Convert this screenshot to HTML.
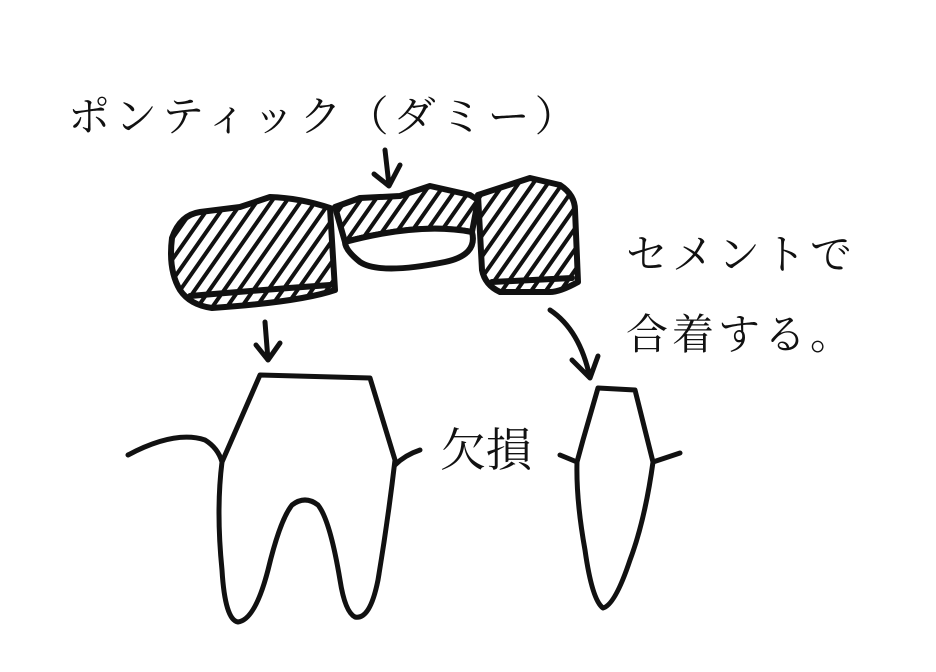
<!DOCTYPE html>
<html><head><meta charset="utf-8"><style>
html,body{margin:0;padding:0;background:#fff;}
body{width:936px;height:672px;overflow:hidden;position:relative;font-family:"Liberation Sans","Noto Sans CJK JP",sans-serif;}
.t{position:absolute;color:#111;white-space:nowrap;font-family:"Noto Serif CJK SC","Noto Sans CJK JP",serif;}
</style></head><body>
<svg width="936" height="672" style="position:absolute;left:0;top:0" xmlns="http://www.w3.org/2000/svg">
<defs>
<pattern id="h" patternUnits="userSpaceOnUse" width="12" height="12" patternTransform="rotate(35)">
<rect width="12" height="12" fill="#fff"/><rect x="0" y="0" width="4" height="12" fill="#111"/>
</pattern>
</defs>
<g stroke="#111" stroke-width="6" stroke-linejoin="round" stroke-linecap="round" fill="url(#h)">
<path d="M172,238 Q180,215 200,212 L240,207 L270,197 Q300,198 330,208 L335,290 Q300,302 212,308 Q190,305 180,290 Q168,270 172,238 Z"/>
<path d="M190,296 Q260,290 330,285"/>
<path d="M335,207 L360,198 L400,196 L430,186 L470,195 L478,200 L472,232 Q420,222 345,242 Z"/>
<path d="M345,242 Q420,222 472,232 Q478,255 445,262 Q380,275 360,262 Q345,250 345,242 Z" fill="#fff"/>
<path d="M478,195 L530,178 L560,185 Q575,195 575,210 L578,282 Q560,292 550,292 L500,292 Q485,285 482,270 Z"/>
<path d="M492,282 L572,278"/>
</g>
<g stroke="#111" stroke-width="5" fill="none" stroke-linecap="round" stroke-linejoin="round">
<path d="M385,150 L389,185 M374,174 L389,186 L400,165"/>
<path d="M265,322 L268,360 M256,345 L268,360 L280,343"/>
<path d="M550,310 Q580,330 590,378 M572,360 L590,378 L598,356"/>
<path d="M260,375 L370,378 L395,460 Q388,520 378,580 Q370,620 355,617 Q345,612 340,580 Q330,520 318,505 Q305,495 292,505 Q280,520 268,570 Q255,620 238,622 Q225,620 222,570 Q216,510 222,462 Z"/>
<path d="M128,455 Q175,430 205,440 Q218,448 222,462"/>
<path d="M395,465 Q405,455 420,450"/>
<path d="M598,388 L635,390 L645,430 L653,462 Q645,520 630,560 Q615,605 603,608 Q592,600 585,550 Q576,500 577,462 L583,440 Z"/>
<path d="M560,455 L577,462 M653,462 L680,453"/>
</g>
</svg>
<div class="t" style="left:68px;top:84px;font-size:42px;letter-spacing:5px;">ポンティック（ダミー）</div>
<div class="t" style="left:626px;top:222px;font-size:42px;letter-spacing:4px;">セメントで</div>
<div class="t" style="left:626px;top:302px;font-size:42px;letter-spacing:4px;">合着する。</div>
<div class="t" style="left:440px;top:414px;font-size:46px;">欠損</div>
</body></html>
